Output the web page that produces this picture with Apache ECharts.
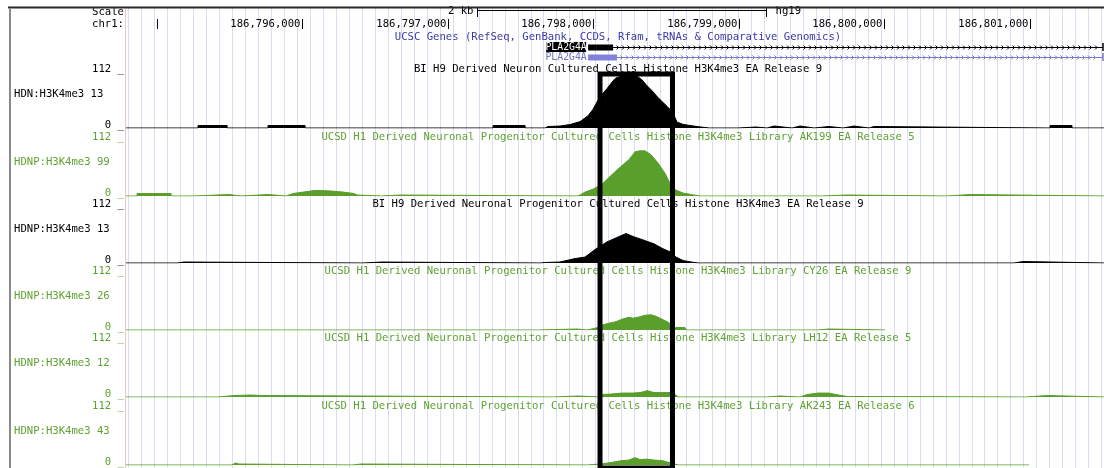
<!DOCTYPE html>
<html><head><meta charset="utf-8">
<script src="https://cdn.jsdelivr.net/npm/echarts/dist/echarts.min.js"></script>
<style>html,body{margin:0;padding:0;background:#fff}#c{width:1104px;height:468px}</style>
</head><body><div id="c"></div>
<script>
// ---------------- data ----------------
const XMIN = 186794790, XMAX = 186801512;
const chromTicks = [186795000, 186796000, 186797000, 186798000, 186799000, 186800000, 186801000];
const chromTickLabels = ['', '186,796,000', '186,797,000', '186,798,000', '186,799,000', '186,800,000', '186,801,000'];
const scaleBar = [186797205, 186799190];
const scaleBarLabel = '2 kb';
const assembly = 'hg19';
const geneTrackTitle = 'UCSC Genes (RefSeq, GenBank, CCDS, Rfam, tRNAs & Comparative Genomics)';
const geneNames = ['PLA2G4A', 'PLA2G4A'];
const geneTxStart = [186797966, 186797966];
const geneExonEnd = [186798138, 186798165];
const geneTxEnd = [186801505, 186801505];
const highlightRegion = [186798048, 186798546];
const trackTitles = [
  'BI H9 Derived Neuron Cultured Cells Histone H3K4me3 EA Release 9',
  'UCSD H1 Derived Neuronal Progenitor Cultured Cells Histone H3K4me3 Library AK199 EA Release 5',
  'BI H9 Derived Neuronal Progenitor Cultured Cells Histone H3K4me3 EA Release 9',
  'UCSD H1 Derived Neuronal Progenitor Cultured Cells Histone H3K4me3 Library CY26 EA Release 9',
  'UCSD H1 Derived Neuronal Progenitor Cultured Cells Histone H3K4me3 Library LH12 EA Release 5',
  'UCSD H1 Derived Neuronal Progenitor Cultured Cells Histone H3K4me3 Library AK243 EA Release 6'
];
const trackLabels = ['HDN:H3K4me3 13', 'HDNP:H3K4me3 99', 'HDNP:H3K4me3 13', 'HDNP:H3K4me3 26', 'HDNP:H3K4me3 12', 'HDNP:H3K4me3 43'];
const yMax = 112;
const yTickLabels = ['112 _', '0 _'];

const hdnH9 = [
[186794790,0],
[186795285,0],[186795285,5],[186795485,5],[186795485,0],
[186795766,0],[186795766,5],[186796021,5],[186796021,0],
[186797313,0],[186797313,5],[186797533,5],[186797533,0],
[186797670,0],[186797691,3],[186797773,4],[186797842,7],[186797911,13],[186797966,25],[186798000,38],[186798048,64],[186798096,80],[186798137,96],[186798158,102],[186798199,106],[186798234,108],[186798268,108],[186798302,106],[186798337,98],[186798371,86],[186798406,76],[186798440,64],[186798474,54],[186798509,44],[186798529,38],[186798543,35],[186798577,12],[186798612,8],[186798646,6],[186798715,3],[186798770,1],[186798800,0],
[186798997,0],[186798997,2],[186799120,2],[186799120,0],
[186799196,0],[186799196,4],[186799244,4],[186799244,0],
[186799368,0],[186799368,4],[186799423,4],[186799423,0],
[186799519,0],[186799519,3],[186799622,3],[186799622,0],
[186799718,0],[186799718,4],[186799794,4],[186799794,0],
[186799897,0],[186799897,3],[186799931,3],[186799931,0],
[186801141,0],[186801141,5],[186801292,5],[186801292,0],
[186801512,0]
];
const hdnpAK199 = [
[186794790,0],
[186794866,0],[186794866,5],[186795100,5],[186795100,0],
[186795251,0],[186795251,3],[186795498,3],[186795498,0],
[186795581,0],[186795581,3],[186795766,3],[186795766,0],
[186795890,0],[186795890,3],[186795938,5],[186796034,9],[186796082,11],[186796131,11],[186796206,10],[186796282,8],[186796357,5],[186796378,2],[186796380,0],
[186796550,0],[186796550,2],[186796674,2],[186796674,0],
[186797890,0],[186797911,2],[186797945,8],[186798000,14],[186798062,24],[186798124,42],[186798199,62],[186798247,74],[186798289,90],[186798323,92],[186798357,92],[186798399,84],[186798447,67],[186798495,46],[186798536,22],[186798570,12],[186798619,6],[186798694,2],[186798735,0],
[186799567,0],[186799567,2],[186799746,2],[186799746,0],
[186800433,0],[186800433,3],[186800591,3],[186800591,0],
[186801512,0]
];
const hdnpH9 = [
[186794790,0],
[186795141,0],[186795141,2],[186795189,2],[186795189,0],
[186796419,0],[186796419,2],[186796550,2],[186796550,0],
[186797636,0],[186797670,1],[186797773,2],[186797876,9],[186797945,12],[186798021,29],[186798096,43],[186798172,53],[186798227,60],[186798275,54],[186798344,47],[186798419,39],[186798481,29],[186798536,22],[186798570,12],[186798619,5],[186798674,2],[186798722,0],
[186800894,0],[186800894,3],[186800955,3],[186800955,0],
[186801512,0]
];
const hdnpCY26 = [
[186794790,0],
[186797622,0],[186797622,2],[186797890,2],[186797890,0],
[186797959,0],[186797959,4],[186798021,4],[186798034,6],[186798062,10],[186798124,15],[186798158,17],[186798199,22],[186798247,26],[186798275,24],[186798323,27],[186798357,30],[186798399,31],[186798433,28],[186798474,22],[186798509,17],[186798543,10],[186798564,5],[186798632,5],[186798640,0],
[186799546,0],[186799546,2],[186799622,2],[186799622,0],
[186800007,0]
];
const hdnpLH12 = [
[186794790,0],
[186795423,0],[186795423,3],[186795533,3],[186795533,4],[186795643,4],[186795643,3],[186795732,3],[186795732,0],
[186797725,0],[186797725,2],[186797897,2],[186797897,0],
[186798048,0],[186798048,5],[186798124,6],[186798199,8],[186798275,8],[186798323,9],[186798351,11],[186798371,13],[186798419,9],[186798502,9],[186798543,9],[186798564,5],[186798584,0],
[186799196,0],[186799196,2],[186799285,2],[186799285,0],
[186799423,0],[186799423,1],[186799471,5],[186799546,8],[186799622,8],[186799670,5],[186799746,1],[186799750,0],
[186800976,0],[186800976,3],[186801120,3],[186801120,0],
[186801512,0]
];
const hdnpAK243 = [
[186794790,0],
[186795519,0],[186795540,4],[186795567,2],[186795567,0],
[186796344,0],[186796344,2],[186796406,2],[186796406,0],
[186797959,0],[186797959,2],[186798048,2],[186798124,5],[186798199,9],[186798247,10],[186798289,15],[186798323,11],[186798371,12],[186798419,10],[186798474,9],[186798522,5],[186798564,2],[186798584,0],
[186800997,0]
];
const trackData = [hdnH9, hdnpAK199, hdnpH9, hdnpCY26, hdnpLH12, hdnpAK243];

// ---------------- layout / style ----------------
const BLACK = '#000000', GREEN = '#5a9e2b', GREEN_TXT = '#5fa232', BLUE_TXT = '#3a3aa6', PURPLE = '#8282da';
const trackColors = [BLACK, GREEN, BLACK, GREEN, GREEN, GREEN];
const trackTextColors = [BLACK, GREEN_TXT, BLACK, GREEN_TXT, GREEN_TXT, GREEN_TXT];
const baselines = [128, 196, 263, 330, 397, 465];
const TRACK_H = 55;
const DATA_LEFT = 126, DATA_W = 978;
const TITLE_X = 618;
const FONT = '10.6px "DejaVu Sans Mono", monospace';

function txt(text, x, y, align, color, font) {
  return {
    type: 'text', silent: true, z: 20,
    style: { text: text, x: x, y: y, font: font || FONT, fill: color,
      align: align, textAlign: align, verticalAlign: 'middle', textVerticalAlign: 'middle' }
  };
}

const grids = [], xAxes = [], yAxes = [], series = [], graphics = [];

// grid 0: background guidelines
grids.push({ left: 128.7, top: 8, width: 12.97 * 75, height: 462 });
xAxes.push({ gridIndex: 0, type: 'value', min: 0, max: 75, interval: 1,
  axisLine: { show: false }, axisTick: { show: false }, axisLabel: { show: false },
  splitLine: { show: true, lineStyle: { color: '#dcdcf3', width: 1 } } });
yAxes.push({ gridIndex: 0, type: 'value', min: 0, max: 1, show: false });

// grids 1..6: signal tracks
trackData.forEach((d, i) => {
  const gi = i + 1;
  grids.push({ left: DATA_LEFT, width: DATA_W, top: baselines[i] - TRACK_H, height: TRACK_H });
  xAxes.push({ gridIndex: gi, type: 'value', min: XMIN, max: XMAX, show: false });
  yAxes.push({ gridIndex: gi, type: 'value', min: 0, max: yMax, show: false });
  series.push({
    type: 'line', xAxisIndex: gi, yAxisIndex: gi, data: d, symbol: 'none', showSymbol: false,
    silent: true, animation: false, z: 3, clip: true,
    lineStyle: { color: trackColors[i], width: 1 },
    areaStyle: { color: trackColors[i], opacity: 1 }
  });
  graphics.push(txt(trackTitles[i], TITLE_X, baselines[i] - 59, 'center', trackTextColors[i]));
  graphics.push(txt(trackLabels[i], 14, baselines[i] - 34, 'left', trackTextColors[i]));
  graphics.push(txt(yTickLabels[0], 124, baselines[i] - 59, 'right', trackTextColors[i]));
  graphics.push(txt(yTickLabels[1], 124, baselines[i] - 3, 'right', trackTextColors[i]));
});

// grid 7: header (ruler + genes)
grids.push({ left: DATA_LEFT, width: DATA_W, top: 0, height: 70 });
xAxes.push({ gridIndex: 7, type: 'value', min: XMIN, max: XMAX, show: false });
yAxes.push({ gridIndex: 7, type: 'value', min: 0, max: 1, show: false });

series.push({
  type: 'custom', xAxisIndex: 7, yAxisIndex: 7, silent: true, animation: false, z: 10,
  data: chromTicks.map(p => [p]), encode: { x: 0 },
  renderItem: function (params, api) {
    const x = Math.round(api.coord([api.value(0), 0])[0]) + 0.5;
    return { type: 'group', children: [
      { type: 'line', shape: { x1: x, y1: 19, x2: x, y2: 29 }, style: { stroke: '#000', lineWidth: 1 } },
      txt(chromTickLabels[params.dataIndex], x - 2, 24, 'right', '#000')
    ]};
  }
});
series.push({
  type: 'custom', xAxisIndex: 7, yAxisIndex: 7, silent: true, animation: false, z: 10,
  data: [scaleBar], encode: { x: [0, 1] },
  renderItem: function (params, api) {
    const x1 = Math.round(api.coord([api.value(0), 0])[0]) + 0.5;
    const x2 = Math.round(api.coord([api.value(1), 0])[0]) + 0.5;
    return { type: 'group', children: [
      { type: 'line', shape: { x1: x1, y1: 8, x2: x1, y2: 17 }, style: { stroke: '#000', lineWidth: 1 } },
      { type: 'line', shape: { x1: x2, y1: 8, x2: x2, y2: 17 }, style: { stroke: '#000', lineWidth: 1 } },
      { type: 'line', shape: { x1: x1, y1: 10.5, x2: x2, y2: 10.5 }, style: { stroke: '#000', lineWidth: 1 } },
      txt(scaleBarLabel, x1 - 4, 11, 'right', '#000'),
      txt(assembly, x2 + 9, 11.5, 'left', '#000')
    ]};
  }
});
series.push({
  type: 'custom', xAxisIndex: 7, yAxisIndex: 7, silent: true, animation: false, z: 10,
  data: geneNames.map((n, i) => [geneTxStart[i], geneExonEnd[i], geneTxEnd[i]]), encode: { x: [0, 1, 2] },
  renderItem: function (params, api) {
    const i = params.dataIndex;
    const y = i === 0 ? 47 : 57;
    const col = i === 0 ? '#000' : PURPLE;
    const lineCol = i === 0 ? '#000' : '#7878cc';
    const xs = api.coord([api.value(0), 0])[0];
    const xe = api.coord([api.value(1), 0])[0];
    const xt = api.coord([api.value(2), 0])[0];
    const gf = '9.8px "DejaVu Sans Mono", monospace';
    const ch = [];
    ch.push({ type: 'line', shape: { x1: xe, y1: y + 0.5, x2: xt, y2: y + 0.5 }, style: { stroke: lineCol, lineWidth: 1 } });
    for (let x = xe + 5; x < xt - 3; x += 5.5) {
      ch.push({ type: 'polyline', shape: { points: [[x - 1.5, y - 1.5], [x + 0.5, y + 0.5], [x - 1.5, y + 2.5]] },
        style: { stroke: lineCol, lineWidth: 1, fill: null } });
    }
    ch.push({ type: 'line', shape: { x1: xt, y1: y - 4, x2: xt, y2: y + 4 }, style: { stroke: lineCol, lineWidth: 1.5 } });
    ch.push({ type: 'rect', shape: { x: xs, y: y - 2.5, width: xe - xs, height: 6 }, style: { fill: col } });
    if (i === 0) {
      ch.push({ type: 'rect', shape: { x: xs - 42, y: y - 5, width: 40, height: 10 }, style: { fill: '#000' } });
      ch.push(txt(geneNames[i], xs - 22, y + 0.5, 'center', '#fff', gf));
    } else {
      ch.push(txt(geneNames[i], xs - 22, y + 0.5, 'center', '#7070c0', gf));
    }
    return { type: 'group', children: ch };
  }
});

// grid 8: highlight box overlay
grids.push({ left: DATA_LEFT, width: DATA_W, top: 74, height: 420 });
xAxes.push({ gridIndex: 8, type: 'value', min: XMIN, max: XMAX, show: false });
yAxes.push({ gridIndex: 8, type: 'value', min: 0, max: 1, show: false });
series.push({
  type: 'custom', xAxisIndex: 8, yAxisIndex: 8, silent: true, animation: false, z: 50,
  data: [highlightRegion], encode: { x: [0, 1] },
  renderItem: function (params, api) {
    const p1 = api.coord([api.value(0), 1]);
    const p2 = api.coord([api.value(1), 0]);
    return { type: 'rect', z2: 100, shape: { x: p1[0], y: p1[1], width: p2[0] - p1[0], height: p2[1] - p1[1] },
      style: { fill: null, stroke: '#000', lineWidth: 5 } };
  }
});

// static header text and frame
graphics.push(txt('Scale', 124, 12, 'right', '#000'));
graphics.push(txt('chr1:', 124, 24.5, 'right', '#000'));
graphics.push(txt(geneTrackTitle, TITLE_X, 37.5, 'center', BLUE_TXT));
graphics.push({ type: 'line', silent: true, z: 30, shape: { x1: 8, y1: 7.5, x2: 1104, y2: 7.5 }, style: { stroke: '#2a2a2a', lineWidth: 2 } });
graphics.push({ type: 'line', silent: true, z: 30, shape: { x1: 10, y1: 8, x2: 10, y2: 468 }, style: { stroke: '#8a8a8a', lineWidth: 2 } });
graphics.push({ type: 'line', silent: true, z: 1, shape: { x1: 125.5, y1: 9, x2: 125.5, y2: 468 }, style: { stroke: '#f0c4c4', lineWidth: 1 } });

const chart = echarts.init(document.getElementById('c'), null, { renderer: 'canvas' });
chart.setOption({
  animation: false,
  backgroundColor: '#ffffff',
  grid: grids, xAxis: xAxes, yAxis: yAxes, series: series,
  graphic: { elements: graphics }
});
</script>
</body></html>
